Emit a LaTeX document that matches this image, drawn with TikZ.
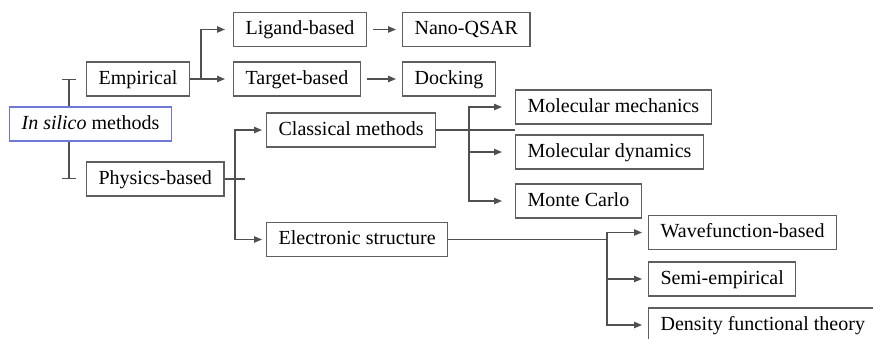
\documentclass[tikz,border=0pt]{standalone}
\usepackage{fontspec}
\setmainfont{Liberation Serif}
\usetikzlibrary{arrows.meta}
\definecolor{linea}{RGB}{80,80,80}
\definecolor{bordo}{RGB}{95,95,95}
\definecolor{blu}{RGB}{110,120,215}

\begin{document}
\begin{tikzpicture}[x=0.5pt,y=-0.5pt,
    box/.style={draw=bordo, line width=0.6pt, anchor=west, inner xsep=6pt, inner ysep=0pt,
      minimum height=17pt, text height=7pt, text depth=2pt, font=\fontsize{10}{12}\selectfont},
    conn/.style={draw=linea, line width=0.6pt},
    freccia/.style={conn, -{Triangle[length=4pt,width=3.2pt]}, shorten >=3pt}]
        % Cornice
        \useasboundingbox[fill=white] (0,0) rectangle (873,338);
        \clip (0,0) rectangle (873,338);

        % Ascisse delle diramazioni
        \coordinate (bx) at (69,0);
        \coordinate (je) at (201,0);
        \coordinate (jp) at (235,0);
        \coordinate (jc) at (469,0);
        \coordinate (jel) at (607,0);

        % Blocchi
        \node[box, draw=blu] (insilico) at (9,124) {\textit{In silico} methods};
        \node[box] (empirical) at (86,79) {Empirical};
        \node[box] (physics) at (86,179) {Physics-based};
        \node[box] (ligand) at (233,29.5) {Ligand-based};
        \node[box] (nanoqsar) at (402,29.5) {Nano-QSAR};
        \node[box] (target) at (233,79) {Target-based};
        \node[box] (docking) at (402,79) {Docking};
        \node[box] (classical) at (266,130) {Classical methods};
        \node[box] (electronic) at (266,239.5) {Electronic structure};
        \node[box] (mm) at (515,107) {Molecular mechanics};
        \node[box] (md) at (515,152) {Molecular dynamics};
        \node[box] (mc) at (515,201) {Monte Carlo};
        \node[box] (wave) at (648,232.5) {Wavefunction-based};
        \node[box] (semi) at (648,279) {Semi-empirical};
        \node[box] (dft) at (648,325) {Density functional theory};

        % Parentesi a sinistra
        \draw[conn, -{Bar[width=7pt]}] (insilico.north -| bx) -- (bx |- empirical.west);
        \draw[conn, -{Bar[width=7pt]}] (insilico.south -| bx) -- (bx |- physics.west);

        % Empirical
        \draw[freccia, shorten >=4pt] (empirical.east) -- (empirical.east -| je) |- (ligand.west);
        \draw[freccia, shorten >=4pt] (empirical.east) -- (target.west);
        \draw[freccia, shorten <=3pt] (ligand.east) -- (nanoqsar.west);
        \draw[freccia, shorten <=3pt] (target.east) -- (docking.west);

        % Physics-based
        \draw[conn] (physics.east) -- ++(20,0);
        \draw[freccia, shorten >=2pt] (physics.east -| jp) |- (classical.west);
        \draw[freccia, shorten >=2pt] (physics.east -| jp) |- (electronic.west);

        % Classical methods
        \draw[conn] (classical.east) -- (classical.east -| mm.west);
        \draw[freccia, shorten >=6.5pt] (classical.east -| jc) |- (mm.west);
        \draw[freccia, shorten >=6.5pt] (classical.east -| jc) |- (md.west);
        \draw[freccia, shorten >=6.5pt] (classical.east -| jc) |- (mc.west);

        % Electronic structure
        \draw[conn] (electronic.east) -- (electronic.east -| jel);
        \draw[freccia] (electronic.east -| jel) |- (wave.west);
        \draw[freccia] (electronic.east -| jel) |- (semi.west);
        \draw[freccia] (electronic.east -| jel) |- (dft.west);
\end{tikzpicture}
\end{document}
